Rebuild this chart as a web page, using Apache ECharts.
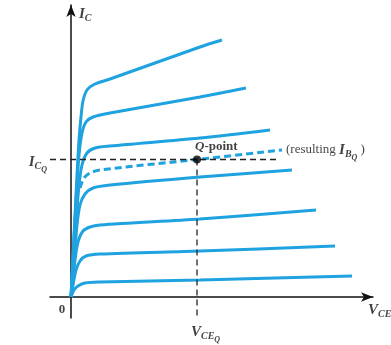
<!DOCTYPE html>
<html>
<head>
<meta charset="utf-8">
<script src="https://cdn.jsdelivr.net/npm/echarts@6/dist/echarts.min.js"></script>
<style>
  html, body { margin: 0; padding: 0; background: #fff; }
  #charts { width: 391px; height: 345px; }
</style>
</head>
<body>
<div id="charts"></div>
<script>
// collector curves, [V_CE, I_C] in arbitrary units
var curve1 = [[0,0],[0.2,4.2],[0.4,8.2],[0.6,12.2],[0.8,15.7],[1,18],[1.2,19.6],[1.6,20.7],[2.4,21.3],[3.9,21.8],[12.9,25],[15.1,25.7]];
var curve2 = [[0,0],[0.2,3.7],[0.4,7.7],[0.6,11.2],[0.8,14.2],[1.1,16.4],[1.5,17.5],[2.2,18],[3.9,18.4],[12.9,20],[17.5,20.9]];
var curve3 = [[0,0],[0.2,2.7],[0.4,5.7],[0.6,8.7],[0.8,11.2],[1.1,13.2],[1.6,14.4],[2.4,14.9],[3.9,15.1],[12.9,15.9],[19.9,16.7]];
var curveQ = [[0.9,10.9],[1.3,11.9],[1.9,12.4],[2.9,12.7],[12.6,13.75],[21.1,14.7]];
var curve4 = [[0,0],[0.2,2.2],[0.4,4.7],[0.6,7.2],[0.9,9.2],[1.4,10.3],[2.2,10.9],[3.9,11.2],[12.9,12],[22.1,12.7]];
var curve5 = [[0,0],[0.2,1.7],[0.4,3.7],[0.7,5.5],[1.2,6.6],[1.9,7.0],[2.9,7.2],[12.9,7.8],[24.5,8.7]];
var curve6 = [[0,0],[0.2,1.2],[0.5,2.7],[0.9,3.6],[1.5,4.1],[2.9,4.3],[12.9,4.6],[26.4,5.1]];
var curve7 = [[0,0],[0.3,0.7],[0.7,1.1],[1.4,1.4],[2.9,1.5],[12.9,1.7],[28.1,2.1]];
var qPoint = [12.6, 13.75];
var hLineEnd = 20.7;
var axisMin = -2.1;

(function () {
    var blue = '#1fa2e0';
    var dom = document.getElementById('charts');
    var myChart = echarts.init(dom, null, { renderer: 'canvas' });

    var serif = 'Liberation Serif';
    var rich = {
        v: { fontFamily: serif, fontStyle: 'italic', fontWeight: 'bold', fontSize: 15, color: '#111' },
        s: { fontFamily: serif, fontStyle: 'italic', fontWeight: 'bold', fontSize: 10, color: '#111', padding: [8, 0, 0, 0] },
        ss: { fontFamily: serif, fontStyle: 'italic', fontWeight: 'bold', fontSize: 8, color: '#111', padding: [15, 0, 0, 0] },
        b: { fontFamily: serif, fontWeight: 'bold', fontSize: 13, color: '#111' },
        bi: { fontFamily: serif, fontStyle: 'italic', fontWeight: 'bold', fontSize: 13, color: '#111' },
        r: { fontFamily: serif, fontSize: 13, color: '#111' }
    };
    var labels = [
        { value: [0.8, 28.3], text: '{v|I}{s|C}', align: 'left' },
        { value: [-2.4, 13.5], text: '{v|I}{s|C}{ss|Q}', align: 'right' },
        { value: [-0.9, -1.3], text: '{b|0}', align: 'center' },
        { value: [29.7, -1.3], text: '{v|V}{s|CE}', align: 'left' },
        { value: [12.0, -3.5], text: '{v|V}{s|CE}{ss|Q}', align: 'left' },
        { value: [12.4, 15.0], text: '{bi|Q}{b|-point}', align: 'left' },
        { value: [21.5, 14.7], text: '{r|(resulting }{v|I}{s|B}{ss|Q}{r| )}', align: 'left' }
    ];

    function curve(data, dashed) {
        return {
            type: 'line',
            data: data,
            smooth: 0.3,
            symbol: 'none',
            silent: true,
            lineStyle: { color: blue, width: 3, type: dashed ? [7, 4] : 'solid' }
        };
    }

    var option = {
        animation: false,
        grid: { left: 50, right: 18, top: 5, bottom: 27 },
        xAxis: {
            type: 'value',
            min: axisMin,
            max: 30.2,
            axisLine: { onZero: true, symbol: ['none', 'arrow'], symbolSize: [7, 12], lineStyle: { color: '#111', width: 1.5 } },
            axisTick: { show: false },
            axisLabel: { show: false },
            splitLine: { show: false }
        },
        yAxis: {
            type: 'value',
            min: axisMin,
            max: 29.2,
            axisLine: { onZero: true, symbol: ['none', 'arrow'], symbolSize: [7, 12], lineStyle: { color: '#111', width: 1.5 } },
            axisTick: { show: false },
            axisLabel: { show: false },
            splitLine: { show: false }
        },
        series: [
            curve(curve1), curve(curve2), curve(curve3), curve(curveQ, true),
            curve(curve4), curve(curve5), curve(curve6), curve(curve7),
            {
                type: 'line',
                data: [[axisMin, qPoint[1]], [hLineEnd, qPoint[1]]],
                symbol: 'none',
                lineStyle: { color: '#222', width: 1.3, type: [6, 4] },
                z: 3
            },
            {
                type: 'line',
                data: [[qPoint[0], qPoint[1]], [qPoint[0], axisMin]],
                symbol: 'none',
                lineStyle: { color: '#222', width: 1.3, type: [6, 4] },
                z: 3
            },
            {
                type: 'scatter',
                data: [qPoint],
                symbolSize: 8,
                itemStyle: { color: '#000' },
                z: 5
            },
            {
                type: 'scatter',
                clip: false,
                symbolSize: 0,
                silent: true,
                data: labels.map(function (l) {
                    return {
                        value: l.value,
                        label: { show: true, position: 'inside', align: l.align, verticalAlign: 'middle', formatter: l.text, rich: rich }
                    };
                }),
                z: 6
            }
        ]
    };
    myChart.setOption(option, true);
})();
</script>
</body>
</html>
